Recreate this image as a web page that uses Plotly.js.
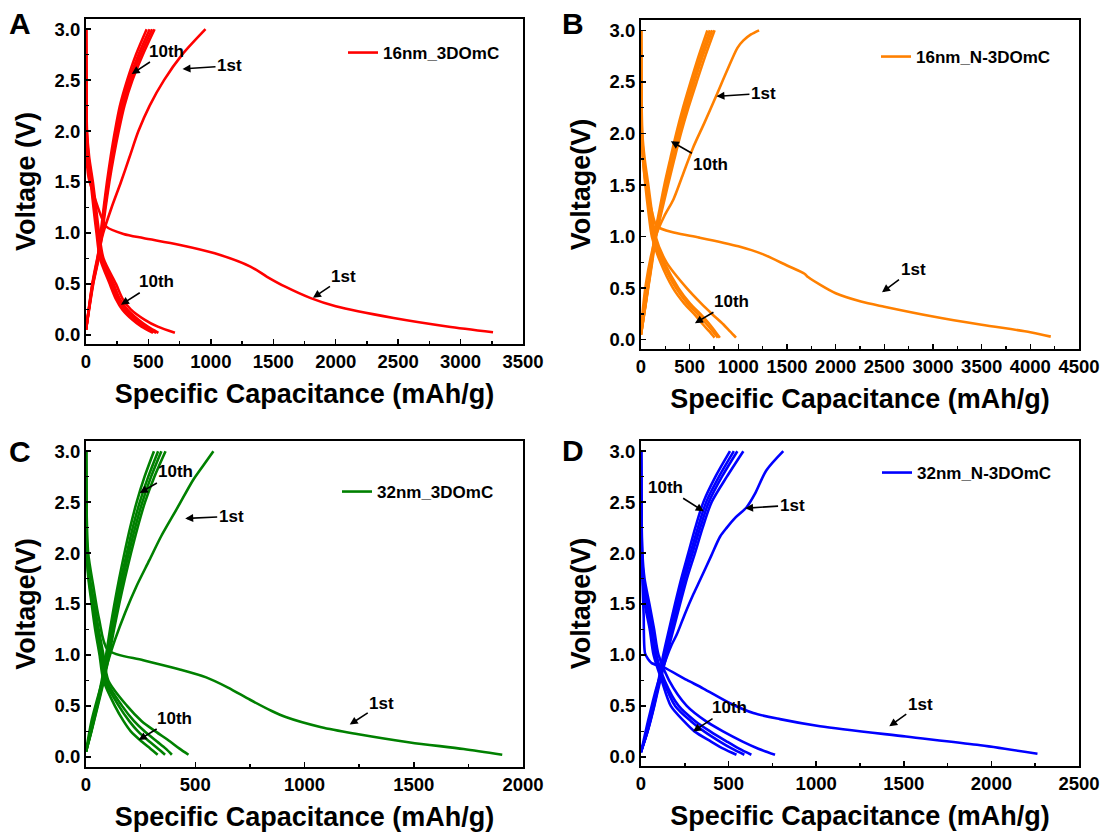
<!DOCTYPE html>
<html>
<head>
<meta charset="utf-8">
<script src="https://cdn.plot.ly/plotly-3.0.1.min.js"></script>
<style>html,body{margin:0;padding:0;background:#fff;}#chart{width:1107px;height:834px;}</style>
</head>
<body>
<div id="chart"></div>
<script>
// ---------- shared voltage grids (V) ----------
const chargeV    = [0.05, 0.25, 0.5, 0.75, 1.0, 1.25, 1.5, 1.75, 2.0, 2.25, 2.5, 2.75, 3.0];
const dischargeV = [3.0, 2.5, 2.0, 1.75, 1.5, 1.25, 1.0, 0.75, 0.5, 0.35, 0.25, 0.15, 0.08, 0.02];

// ---------- Panel A : 16nm_3DOmC ----------
const A_name = "16nm_3DOmC";
const A_dis1_x = [0, 2, 5, 20, 50, 90, 126, 165, 300, 457, 744, 1031, 1317, 1450, 1600, 1800, 2000, 2464, 2893, 3260];
const A_dis1_y = [3.0, 2.4, 1.75, 1.55, 1.42, 1.27, 1.15, 1.06, 0.99, 0.95, 0.885, 0.80, 0.67, 0.57, 0.47, 0.36, 0.28, 0.165, 0.082, 0.025];
const A_dis2  = [0, 2, 8, 25, 55, 80, 105, 140, 240, 295, 358, 468, 575, 712];
const A_dis4  = [0, 2, 6, 20, 48, 72, 96, 128, 220, 272, 330, 418, 495, 580];
const A_dis6  = [0, 1, 5, 17, 43, 66, 90, 120, 205, 257, 310, 396, 470, 562];
const A_dis10 = [0, 1, 4, 14, 38, 60, 84, 112, 190, 240, 290, 370, 445, 537];
const A_chg1_x = [0, 22, 50, 90, 138, 205, 280, 350, 420, 510, 625, 770, 957];
const A_chg1_y = [0.05, 0.25, 0.5, 0.75, 1.0, 1.25, 1.5, 1.75, 2.0, 2.25, 2.5, 2.75, 3.0];
const A_chg2  = [0, 25, 58, 101, 130, 157, 187, 222, 262, 308, 372, 455, 549];
const A_chg4  = [0, 24, 56, 98, 126, 152, 181, 214, 252, 296, 358, 437, 530];
const A_chg6  = [0, 23, 54, 95, 122, 147, 175, 207, 243, 285, 345, 420, 510];
const A_chg10 = [0, 22, 52, 92, 118, 142, 168, 198, 232, 272, 330, 400, 486];

// ---------- Panel B : 16nm_N-3DOmC ----------
const B_name = "16nm_N-3DOmC";
const B_dis1_x = [0, 3, 8, 25, 60, 110, 164, 349, 600, 1000, 1250, 1500, 1680, 1720, 2000, 2260, 2500, 3000, 3500, 4000, 4210];
const B_dis1_y = [3.0, 2.5, 2.0, 1.7, 1.45, 1.25, 1.10, 1.036, 0.99, 0.906, 0.83, 0.72, 0.64, 0.605, 0.45, 0.37, 0.32, 0.225, 0.145, 0.073, 0.03];
const B_dis2  = [0, 3, 14, 38, 75, 110, 150, 262, 470, 620, 730, 845, 915, 976];
const B_dis4  = [0, 2, 10, 30, 62, 96, 135, 238, 385, 505, 610, 705, 762, 810];
const B_dis6  = [0, 2, 8, 25, 55, 88, 125, 222, 360, 478, 580, 675, 738, 790];
const B_dis10 = [0, 1, 5, 20, 45, 75, 112, 200, 329, 445, 545, 635, 702, 756];
const B_chg1_x = [0, 20, 52, 100, 164, 240, 333, 430, 534, 650, 771, 880, 991, 1050, 1130, 1213];
const B_chg1_y = [0.05, 0.3, 0.55, 0.8, 1.036, 1.2, 1.36, 1.6, 1.86, 2.1, 2.36, 2.6, 2.83, 2.9, 2.96, 3.0];
const B_chg2  = [0, 33, 74, 115, 155, 214, 277, 342, 410, 487, 572, 660, 756];
const B_chg4  = [0, 32, 72, 111, 148, 204, 263, 327, 393, 467, 548, 634, 732];
const B_chg6  = [0, 31, 70, 108, 143, 196, 252, 314, 378, 450, 530, 614, 708];
const B_chg10 = [0, 30, 68, 105, 138, 188, 240, 300, 362, 432, 510, 592, 682];

// ---------- Panel C : 32nm_3DOmC ----------
const C_name = "32nm_3DOmC";
const C_dis1_x = [0, 2, 10, 34, 60, 100, 262, 425, 550, 650, 751, 850, 914, 1077, 1240, 1483, 1728, 1905];
const C_dis1_y = [3.0, 2.5, 2.0, 1.67, 1.35, 1.05, 0.948, 0.86, 0.78, 0.68, 0.56, 0.45, 0.39, 0.29, 0.224, 0.141, 0.076, 0.02];
const C_dis2  = [0, 1, 6, 18, 38, 58, 80, 102, 188, 255, 318, 385, 428, 469];
const C_dis4  = [0, 1, 5, 15, 33, 52, 74, 93, 165, 220, 268, 325, 365, 393];
const C_dis6  = [0, 1, 4, 13, 30, 47, 68, 86, 150, 198, 238, 290, 330, 362];
const C_dis10 = [0, 1, 3, 11, 26, 42, 62, 80, 132, 172, 205, 255, 295, 328];
const C_chg1_x = [0, 25, 67, 100, 132, 180, 230, 290, 344, 420, 491, 540, 583];
const C_chg1_y = [0.05, 0.35, 0.684, 0.93, 1.145, 1.42, 1.67, 1.93, 2.165, 2.45, 2.72, 2.87, 3.0];
const C_chg2  = [0, 25, 54, 82, 106, 128, 152, 178, 206, 236, 270, 313, 364];
const C_chg4  = [0, 24, 52, 79, 101, 122, 145, 169, 196, 225, 258, 298, 345];
const C_chg6  = [0, 23, 50, 76, 97, 117, 138, 161, 187, 214, 246, 285, 330];
const C_chg10 = [0, 22, 48, 72, 92, 110, 130, 152, 176, 202, 232, 268, 311];

// ---------- Panel D : 32nm_N-3DOmC ----------
const D_name = "32nm_N-3DOmC";
const D_dis1_x = [0, 2, 5, 8, 15, 23, 40, 61, 127, 261, 356, 508, 641, 793, 1022, 1512, 1918, 2263];
const D_dis1_y = [3.0, 2.5, 2.0, 1.75, 1.4, 1.017, 0.96, 0.92, 0.88, 0.755, 0.67, 0.526, 0.43, 0.37, 0.30, 0.199, 0.118, 0.03];
const D_dis2  = [0, 2, 8, 20, 48, 75, 100, 160, 261, 370, 468, 580, 670, 765];
const D_dis4  = [0, 2, 6, 15, 38, 64, 88, 135, 215, 310, 395, 490, 560, 630];
const D_dis6  = [0, 1, 5, 12, 30, 57, 80, 127, 195, 285, 360, 450, 520, 590];
const D_dis10 = [0, 1, 4, 10, 22, 50, 72, 118, 170, 245, 305, 400, 470, 545];
const D_chg1_x = [0, 40, 90, 147, 175, 204, 250, 300, 337, 400, 451, 490, 540, 603, 650, 715, 812];
const D_chg1_y = [0.04, 0.35, 0.69, 0.98, 1.1, 1.2, 1.4, 1.6, 1.735, 1.97, 2.16, 2.25, 2.35, 2.45, 2.58, 2.81, 3.0];
const D_chg2  = [0, 38, 76, 110, 147, 185, 223, 262, 308, 352, 403, 490, 584];
const D_chg4  = [0, 37, 74, 106, 138, 175, 212, 250, 294, 338, 387, 462, 550];
const D_chg6  = [0, 36, 72, 103, 133, 168, 203, 240, 282, 325, 372, 445, 530];
const D_chg10 = [0, 35, 70, 100, 127, 160, 194, 230, 270, 310, 356, 425, 508];

// ---------- styling ----------
const FONT = "Liberation Sans, Arial, Helvetica, sans-serif";
const panels = [
  {name: A_name, color: "#ff0000", ax: "", leg: "legend",
   dis1: [A_dis1_x, A_dis1_y], chg1: [A_chg1_x, A_chg1_y],
   dis: [A_dis2, A_dis4, A_dis6, A_dis10], chg: [A_chg2, A_chg4, A_chg6, A_chg10]},
  {name: B_name, color: "#ff8000", ax: "2", leg: "legend2",
   dis1: [B_dis1_x, B_dis1_y], chg1: [B_chg1_x, B_chg1_y],
   dis: [B_dis2, B_dis4, B_dis6, B_dis10], chg: [B_chg2, B_chg4, B_chg6, B_chg10]},
  {name: C_name, color: "#008000", ax: "3", leg: "legend3",
   dis1: [C_dis1_x, C_dis1_y], chg1: [C_chg1_x, C_chg1_y],
   dis: [C_dis2, C_dis4, C_dis6, C_dis10], chg: [C_chg2, C_chg4, C_chg6, C_chg10]},
  {name: D_name, color: "#0000ff", ax: "4", leg: "legend4",
   dis1: [D_dis1_x, D_dis1_y], chg1: [D_chg1_x, D_chg1_y],
   dis: [D_dis2, D_dis4, D_dis6, D_dis10], chg: [D_chg2, D_chg4, D_chg6, D_chg10]}
];

const traces = [];
panels.forEach(p => {
  const base = {type: "scatter", mode: "lines", xaxis: "x" + p.ax, yaxis: "y" + p.ax,
    line: {color: p.color, width: 2.6, shape: "spline", smoothing: 0.8},
    hoverinfo: "skip", legend: p.leg, showlegend: false, name: p.name};
  traces.push(Object.assign({}, base, {x: p.dis1[0], y: p.dis1[1], showlegend: true}));
  traces.push(Object.assign({}, base, {x: p.chg1[0], y: p.chg1[1]}));
  p.dis.forEach(arr => traces.push(Object.assign({}, base, {x: arr, y: dischargeV})));
  p.chg.forEach(arr => traces.push(Object.assign({}, base, {x: arr, y: chargeV})));
});

function xAxis(domain, range, anchor) {
  return {domain: domain, range: range, anchor: anchor, dtick: 500, tick0: 0,
    showline: true, linecolor: "black", linewidth: 2, mirror: true,
    ticks: "inside", ticklen: 5, tickwidth: 1.5, tickcolor: "black",
    minor: {ticks: "inside", ticklen: 3, tickwidth: 1.5, tickcolor: "black", dtick: 250},
    showgrid: false, zeroline: false,
    tickfont: {family: FONT, size: 18.5, color: "black", weight: "bold"},
    title: {text: "Specific Capacitance (mAh/g)", standoff: 13,
      font: {family: FONT, size: 27, color: "black", weight: "bold"}}};
}
function yAxis(domain, range, anchor, title) {
  return {domain: domain, range: range, anchor: anchor, dtick: 0.5, tick0: 0, tickformat: ".1f",
    showline: true, linecolor: "black", linewidth: 2, mirror: true,
    ticks: "inside", ticklen: 5, tickwidth: 1.5, tickcolor: "black",
    minor: {ticks: "inside", ticklen: 3, tickwidth: 1.5, tickcolor: "black", dtick: 0.25},
    showgrid: false, zeroline: false,
    tickfont: {family: FONT, size: 18.5, color: "black", weight: "bold"},
    title: {text: title, standoff: 11,
      font: {family: FONT, size: 27, color: "black", weight: "bold"}}};
}
function legendAt(x, y) {
  return {x: x, y: y, xanchor: "left", yanchor: "middle", bgcolor: "rgba(0,0,0,0)",
    borderwidth: 0, font: {family: FONT, size: 17, color: "black", weight: "bold"}};
}
const W = 1107, H = 834;
function arrow(ax, xd, yd, text, dx, dy) {
  return {xref: "x" + ax, yref: "y" + ax, x: xd, y: yd, text: text, showarrow: true,
    ax: dx, ay: dy, arrowhead: 2, arrowsize: 1, arrowwidth: 1.6, arrowcolor: "black",
    font: {family: FONT, size: 17, color: "black", weight: "bold"}};
}
function letter(t, px, py) {
  return {xref: "paper", yref: "paper", x: px / W, y: 1 - py / H, text: t, showarrow: false,
    xanchor: "center", yanchor: "middle",
    font: {family: FONT, size: 30, color: "black", weight: "bold"}};
}

const layout = {
  width: W, height: H, margin: {l: 0, r: 0, t: 0, b: 0},
  paper_bgcolor: "white", plot_bgcolor: "white",
  xaxis:  xAxis([86 / W, 523 / W], [0, 3500], "y"),
  yaxis:  yAxis([1 - 344 / H, 1 - 19 / H], [-0.09, 3.1], "x", "Voltage (V)"),
  xaxis2: xAxis([641 / W, 1079 / W], [0, 4500], "y2"),
  yaxis2: yAxis([1 - 349 / H, 1 - 20 / H], [-0.09, 3.1], "x2", "Voltage(V)"),
  xaxis3: xAxis([86 / W, 523 / W], [0, 2000], "y3"),
  yaxis3: yAxis([1 - 767 / H, 1 - 441 / H], [-0.1, 3.1], "x3", "Voltage(V)"),
  xaxis4: xAxis([641 / W, 1079 / W], [0, 2500], "y4"),
  yaxis4: yAxis([1 - 766 / H, 1 - 441 / H], [-0.09, 3.1], "x4", "Voltage(V)"),
  legend:  legendAt(343 / W, 1 - 53 / H),
  legend2: legendAt(876 / W, 1 - 57 / H),
  legend3: legendAt(337 / W, 1 - 492 / H),
  legend4: legendAt(877 / W, 1 - 473 / H),
  annotations: [
    letter("A", 20, 23), letter("B", 573, 23), letter("C", 20, 452), letter("D", 573, 450),
    arrow("", 366, 2.56, "10th", 35, -23),
    arrow("", 773, 2.61, "1st", 47, -3),
    arrow("", 280, 0.295, "10th", 36, -23),
    arrow("", 1818, 0.363, "1st", 31, -21),
    arrow("2", 775, 2.36, "1st", 47, -3),
    arrow("2", 307, 1.925, "10th", 40, 23),
    arrow("2", 554, 0.16, "10th", 37, -22),
    arrow("2", 2476, 0.46, "1st", 31, -23),
    arrow("3", 246, 2.59, "10th", 36, -21),
    arrow("3", 454, 2.34, "1st", 46, -2),
    arrow("3", 241, 0.165, "10th", 36, -22),
    arrow("3", 1207, 0.316, "1st", 32, -21),
    arrow("4", 358, 2.41, "10th", -38, -24),
    arrow("4", 594, 2.44, "1st", 47, -3),
    arrow("4", 297, 0.248, "10th", 36, -24),
    arrow("4", 1417, 0.30, "1st", 31, -22)
  ]
};

Plotly.newPlot("chart", traces, layout, {displayModeBar: false, staticPlot: true});
</script>
</body>
</html>
